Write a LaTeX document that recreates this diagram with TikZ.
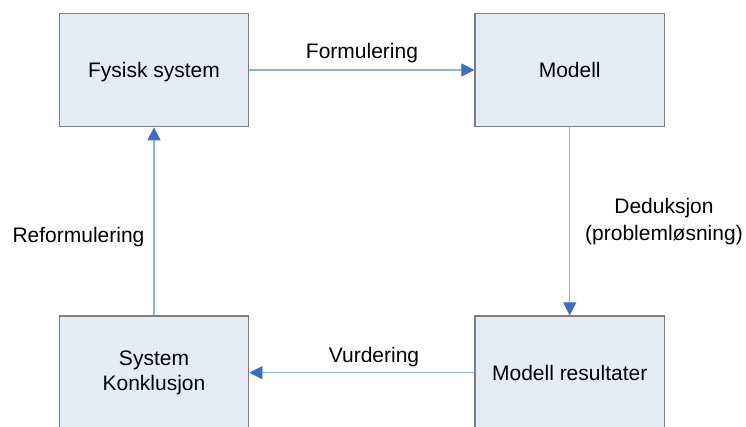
\documentclass[tikz,border=0pt]{standalone}
\usepackage{fontspec}
\setmainfont{Liberation Sans}
\usetikzlibrary{arrows.meta}
\definecolor{boxfill}{HTML}{E6ECF6}
\definecolor{boxdraw}{HTML}{7F7F7F}
\definecolor{lineblue}{HTML}{8CB0E0}
\definecolor{tipblue}{HTML}{3A6EC2}
\begin{document}
\begin{tikzpicture}[x=1pt,y=-1pt,
  box/.style={draw=boxdraw, line width=1.3pt, fill=boxfill, minimum width=189.4pt, minimum height=113.4pt, inner sep=0pt, font=\fontsize{21}{25}\selectfont, align=center},
  oneline/.style={text height=15pt, text depth=0pt},
  conn/.style={draw=lineblue, line width=1.2pt, -{Triangle[length=13pt,width=13pt,color=tipblue]}},
  lbl/.style={font=\fontsize{21}{25}\selectfont, inner sep=0pt, anchor=base}]
\useasboundingbox (0,0) rectangle (746,426);
\clip (0,0) rectangle (746,426);
\fill[white] (0,0) rectangle (746,426);
\node[box,oneline] (fys) at (154,70) {Fysisk system};
\node[box,oneline] (mod) at (569.7,70) {Modell};
\node[box] (sys) at (154,372.7) {System\\Konklusjon};
\node[box,oneline] (res) at (569.7,372.7) {Modell resultater};
\draw[conn] (fys) -- (mod);
\draw[conn] (mod) -- (res);
\draw[conn] (res) -- (sys);
\draw[conn] (sys) -- (fys);
\node[lbl] (lform) at (362,58) {Formulering};
\node[lbl] (lvurd) at (374,362) {Vurdering};
\node[lbl] (lreform) at (78.5,242) {Reformulering};
\node[lbl] (lded) at (664,213) {Deduksjon};
\node[lbl] (lprob) at (664,240) {(problemløsning)};
\end{tikzpicture}
\end{document}
